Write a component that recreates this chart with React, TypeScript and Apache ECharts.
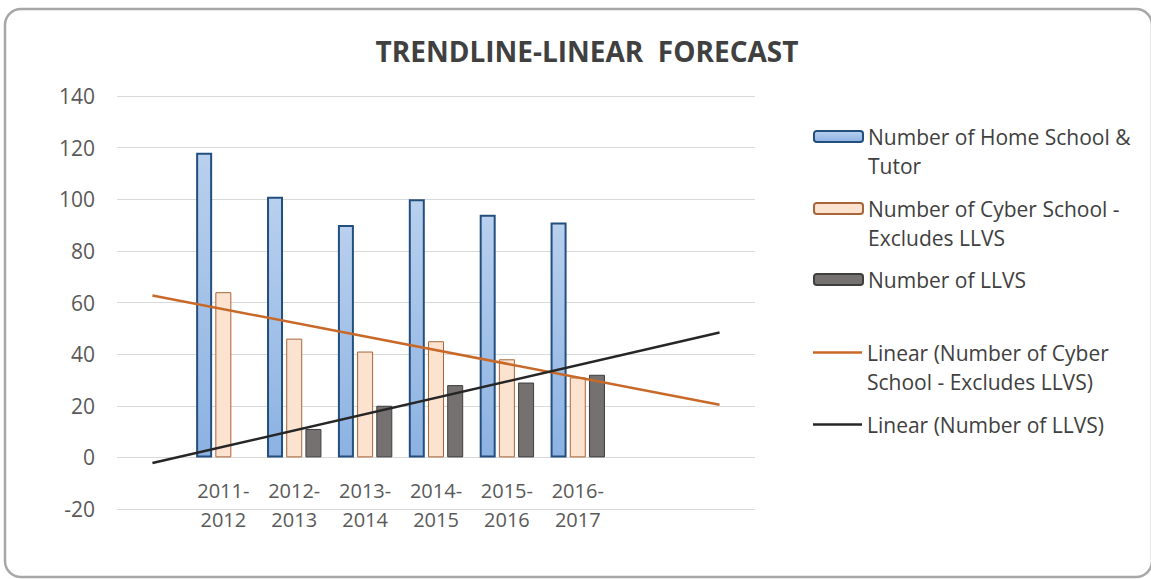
import React, { useEffect, useRef } from "react";
import * as echarts from "echarts";

const categories = ["2011-2012", "2012-2013", "2013-2014", "2014-2015", "2015-2016", "2016-2017"];
const homeSchool = [118, 101, 90, 100, 94, 91];
const cyberSchool = [64, 46, 41, 45, 38, 31];
const llvs = [0, 11, 20, 28, 29, 32];
// trendline end values (1 period back, 2 periods forward)
const cyberTrendEnds = [62.7, 20.4];
const llvsTrendEnds = [-2.2, 48.4];
const yTicks = { min: -20, max: 140, interval: 20 };

const NAMES = {
  home: "Number of Home School & Tutor",
  cyber: "Number of Cyber School - Excludes LLVS",
  llvs: "Number of LLVS",
  cyberT: "Linear (Number of Cyber School - Excludes LLVS)",
  llvsT: "Linear (Number of LLVS)",
};
const LEGEND_LABELS: Record<string, string> = {
  [NAMES.home]: "\nNumber of Home School &\nTutor",
  [NAMES.cyber]: "\nNumber of Cyber School -\nExcludes LLVS",
  [NAMES.llvs]: "Number of LLVS",
  [NAMES.cyberT]: "\nLinear (Number of Cyber\nSchool - Excludes LLVS)",
  [NAMES.llvsT]: "Linear (Number of LLVS)",
};

const FONT = "'Open Sans', 'Noto Sans', sans-serif";

export default function App() {
  const ref = useRef<HTMLDivElement>(null);
  useEffect(() => {
    if (!ref.current) return;
    const chart = echarts.init(ref.current, null, { renderer: "svg" });
    const padBefore = 1;
    const padAfter = 2;
    const axisCats = [
      ...Array(padBefore).fill(""),
      ...categories,
      ...Array(padAfter).fill(""),
    ].map((c, i) => (c === "" ? "pad" + i : c));
    const pad = (arr: any[]) => [
      ...Array(padBefore).fill(null),
      ...arr,
      ...Array(padAfter).fill(null),
    ];
    const trend = (ends: number[]) => {
      const a: (number | null)[] = Array(axisCats.length).fill(null);
      a[0] = ends[0];
      a[axisCats.length - 1] = ends[1];
      return a;
    };
    const legendItem = (name: string, top: number, isLine: boolean, color?: string) => ({
      show: true,
      data: [isLine ? { name, icon: "rect", itemStyle: { color } } : { name }],
      orient: "vertical",
      left: 813,
      top,
      padding: 0,
      itemWidth: 49,
      itemHeight: isLine ? 2.5 : 11,
      selectedMode: false,
      formatter: (n: string) => LEGEND_LABELS[n] ?? n,
      textStyle: {
        fontFamily: FONT,
        fontSize: 21,
        color: "#404040",
        lineHeight: 29,
      },
    });
    chart.setOption({
      animation: false,
      backgroundColor: "#ffffff",
      title: {
        text: "TRENDLINE-LINEAR  FORECAST",
        left: 582,
        top: 32,
        textAlign: "center",
        textStyle: { fontFamily: FONT, fontSize: 28, fontWeight: "bold", color: "#404040" },
      },
      graphic: [
        {
          type: "rect",
          shape: { x: 5, y: 9, width: 1147, height: 568, r: 16 },
          style: { fill: "none", stroke: "#a8a6a6", lineWidth: 2.5 },
          silent: true,
          z: 100,
        },
      ],
      legend: [
        legendItem(NAMES.home, 136 - 43, false),
        legendItem(NAMES.cyber, 208 - 43, false),
        legendItem(NAMES.llvs, 279 - 14, false),
        legendItem(NAMES.cyberT, 352 - 43, true, "#c8692a"),
        legendItem(NAMES.llvsT, 424 - 14, true, "#262626"),
      ],
      grid: { left: 117, right: 396, top: 96, bottom: 70, containLabel: false },
      xAxis: {
        type: "category",
        data: axisCats,
        boundaryGap: true,
        axisLine: { show: false, onZero: false },
        axisTick: { show: false },
        splitLine: { show: false },
        axisLabel: {
          interval: 0,
          margin: -33,
          fontFamily: FONT,
          fontSize: 20,
          lineHeight: 29,
          color: "#595959",
          formatter: (v: string) => (v.startsWith("pad") ? "" : v.replace("-", "-\n")),
        },
      },
      yAxis: {
        type: "value",
        min: yTicks.min,
        max: yTicks.max,
        interval: yTicks.interval,
        axisLine: { show: false },
        axisTick: { show: false },
        splitLine: { lineStyle: { color: "#d9d9d9", width: 1 } },
        axisLabel: { margin: 22, fontFamily: FONT, fontSize: 21, color: "#595959" },
      },
      series: [
        {
          name: NAMES.home,
          type: "bar",
          data: pad(homeSchool),
          barWidth: 16,
          barGap: "20%",
          itemStyle: {
            color: new echarts.graphic.LinearGradient(0, 0, 0, 1, [
              { offset: 0, color: "#b9d0ee" },
              { offset: 1, color: "#8cb2e2" },
            ]),
            borderColor: "#234f7e",
            borderWidth: 2,
          },
        },
        {
          name: NAMES.cyber,
          type: "bar",
          data: pad(cyberSchool),
          barWidth: 16,
          barGap: "20%",
          itemStyle: { color: "#fce3d0", borderColor: "#a8653a", borderWidth: 1 },
        },
        {
          name: NAMES.llvs,
          type: "bar",
          data: pad(
            llvs.map((v) => (v === 0 ? { value: v, itemStyle: { borderWidth: 0, opacity: 0 } } : v))
          ),
          barWidth: 16,
          barGap: "20%",
          itemStyle: { color: "#767171", borderColor: "#3f3f3f", borderWidth: 1 },
        },
        {
          name: NAMES.cyberT,
          type: "line",
          data: trend(cyberTrendEnds),
          connectNulls: true,
          symbol: "none",
          lineStyle: { color: "#c8692a", width: 2.5 },
          itemStyle: { color: "#c8692a" },
          z: 5,
        },
        {
          name: NAMES.llvsT,
          type: "line",
          data: trend(llvsTrendEnds),
          connectNulls: true,
          symbol: "none",
          lineStyle: { color: "#262626", width: 2.5 },
          itemStyle: { color: "#262626" },
          z: 5,
        },
      ],
    });
    return () => chart.dispose();
  }, []);
  return (
    <div
      ref={ref}
      style={{ position: "absolute", left: 0, top: 0, width: 1151, height: 579, background: "#fff" }}
    />
  );
}
